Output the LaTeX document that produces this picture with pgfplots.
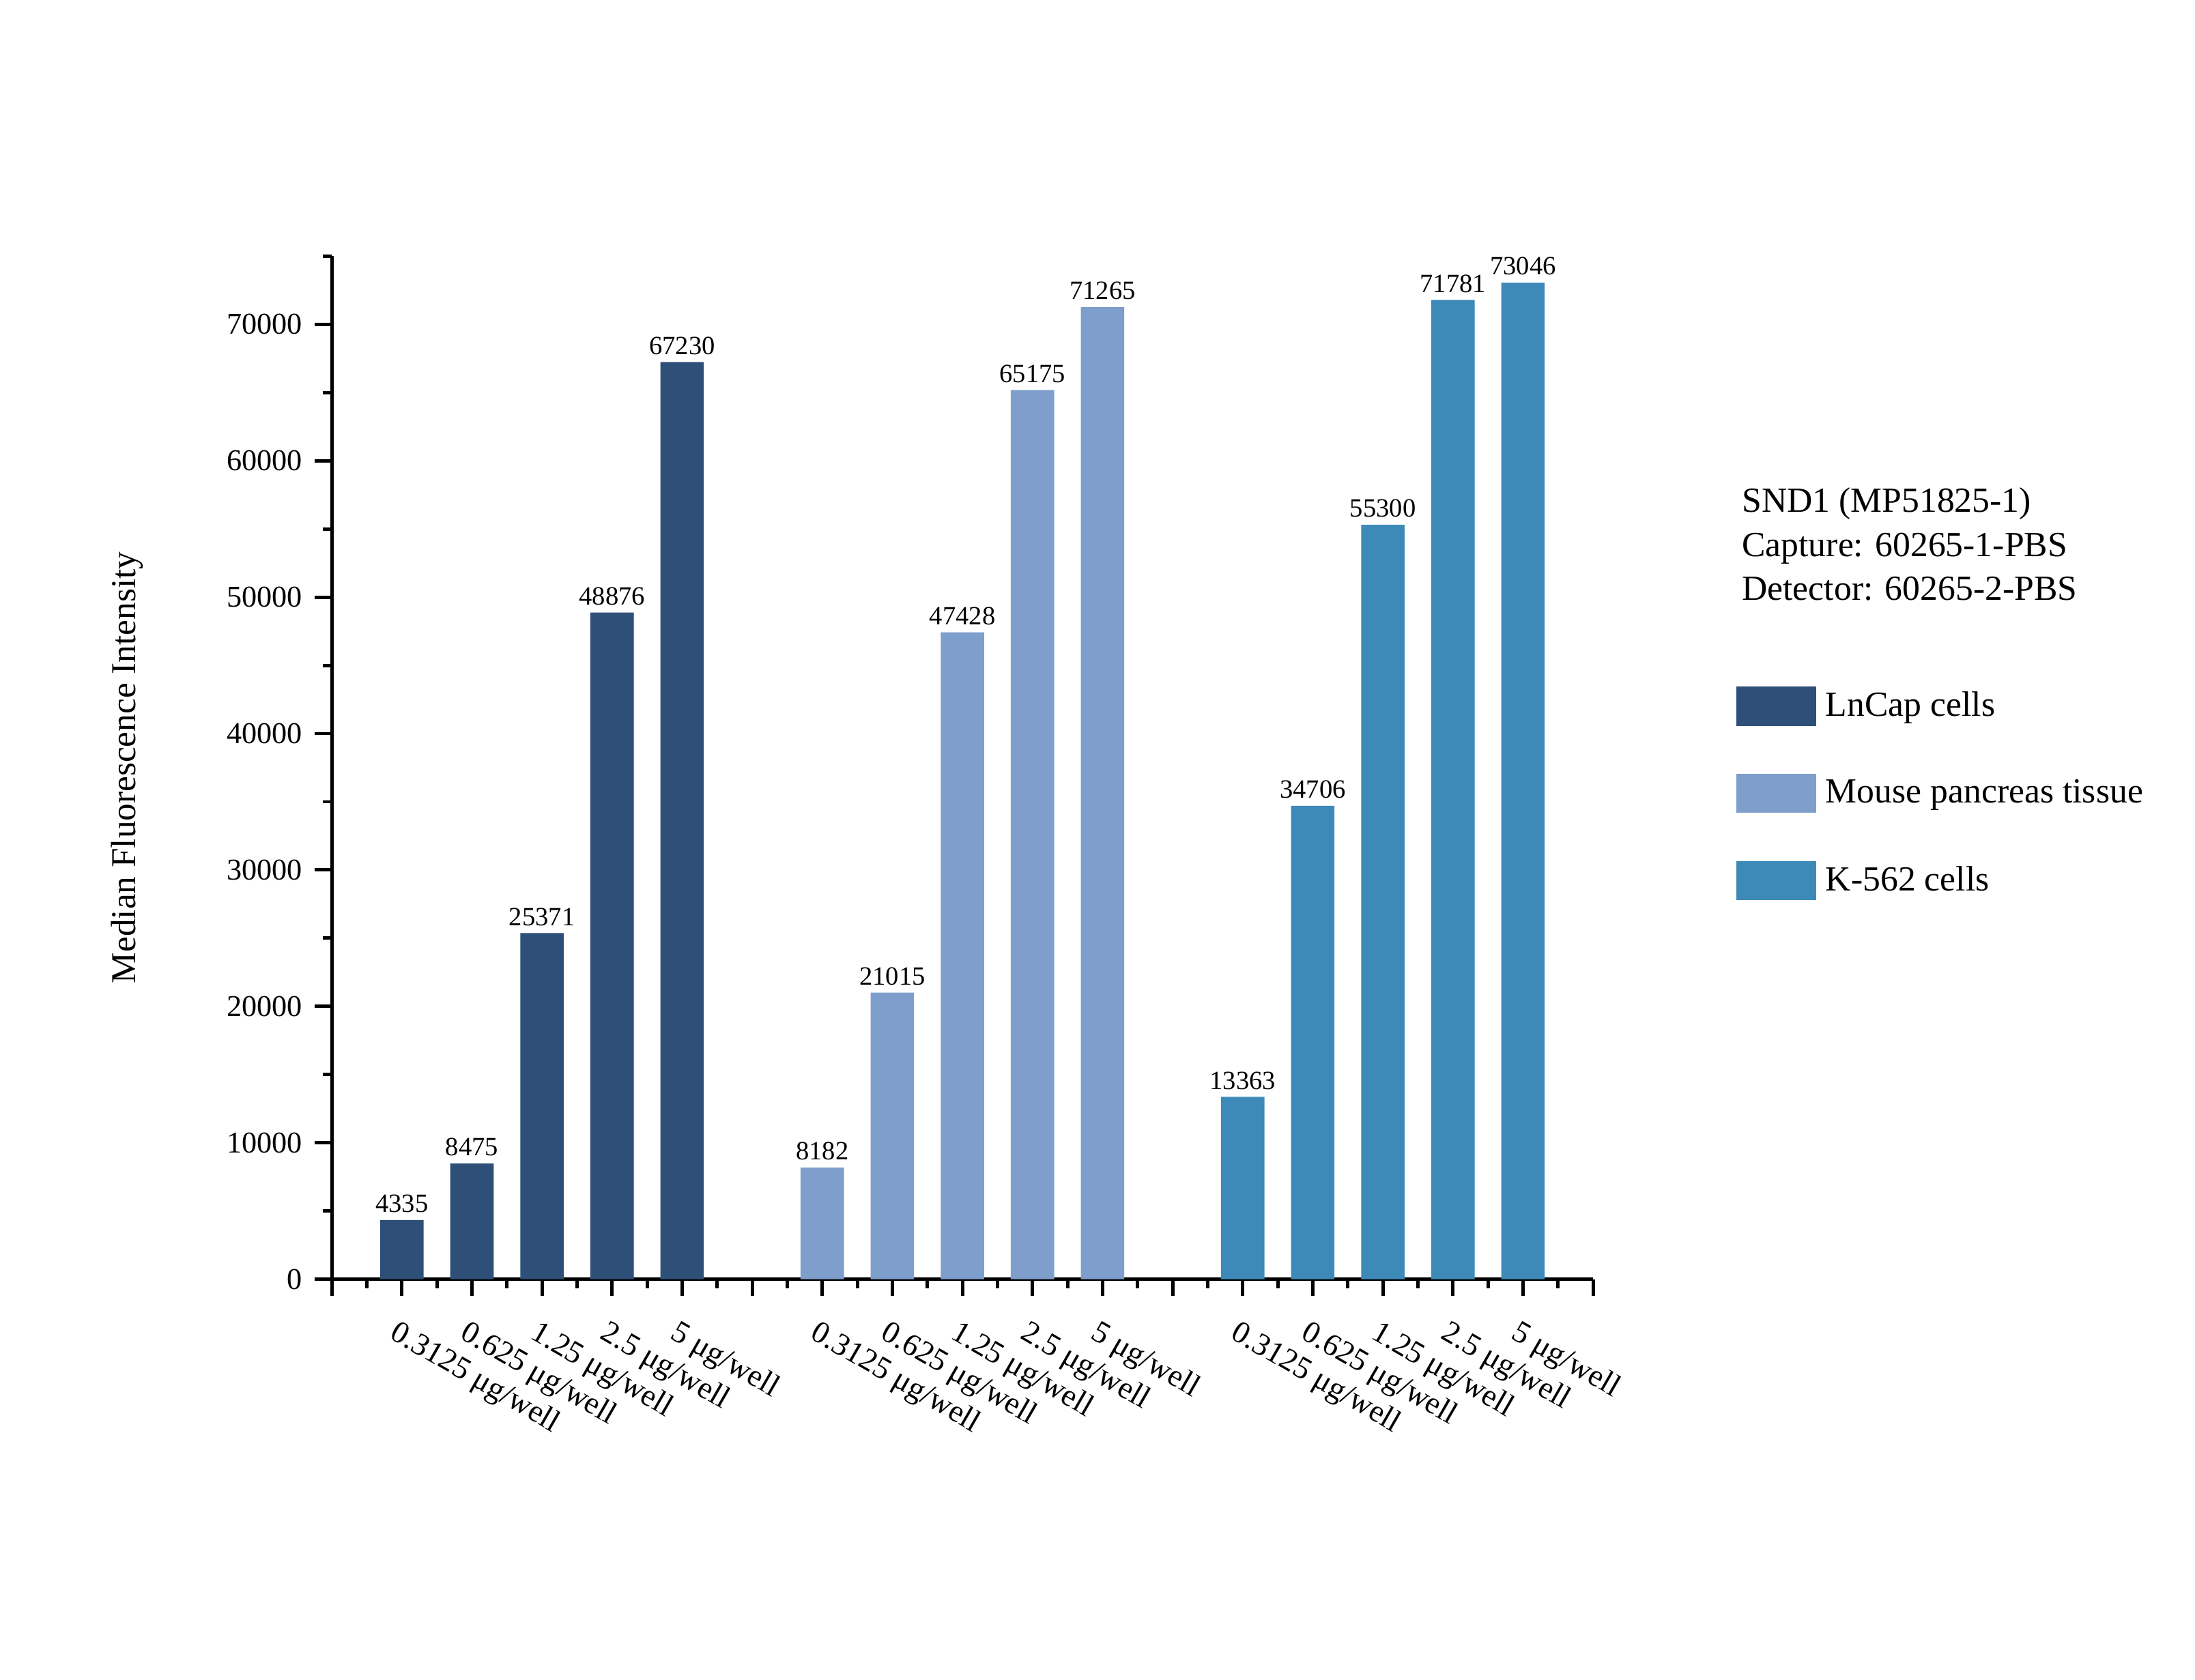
\documentclass[border=0pt]{standalone}
\usepackage{fontspec}
\setmainfont{Liberation Serif}
\usepackage{pgfplots}
\pgfplotsset{compat=1.18}
\definecolor{cA}{HTML}{2E4F78}
\definecolor{cB}{HTML}{7E9ECC}
\definecolor{cC}{HTML}{3D8AB9}
\begin{document}
\begin{tikzpicture}
\path[use as bounding box] (0,0) rectangle (784bp,600bp);
\begin{axis}[
  at={(118.5bp,143bp)}, anchor=south west,
  scale only axis, width=450.5bp, height=365.5bp,
  xmin=0, xmax=18, ymin=0, ymax=75000,
  axis lines*=left,
  axis line style={line width=1.2bp},
  every tick/.style={line width=1.2bp, black},
  tick align=outside,
  major tick length=6bp, minor tick length=3.2bp,
  ytick={0,10000,...,70000}, minor ytick={5000,15000,...,75000},
  xtick={0,...,18}, minor xtick={0.5,1.5,...,17.5},
  xticklabels={,0.3125 μg/well,0.625 μg/well,1.25 μg/well,2.5 μg/well,5 μg/well,,0.3125 μg/well,0.625 μg/well,1.25 μg/well,2.5 μg/well,5 μg/well,,0.3125 μg/well,0.625 μg/well,1.25 μg/well,2.5 μg/well,5 μg/well,},
  scaled y ticks=false,
  yticklabel style={/pgf/number format/1000 sep={}, /pgf/number format/assume math mode=true, font=\fontsize{10.8bp}{13bp}\selectfont, xshift=-1bp},
  xticklabel style={xshift=-0.8bp, yshift=-8bp, rotate=-30, anchor=north west, inner sep=0pt, font=\fontsize{11.2bp}{13bp}\selectfont},
  ylabel={Median Fluorescence Intensity},
  every axis y label/.style={at={(axis description cs:-0.162,0.5)}, rotate=90, anchor=center, font=\fontsize{12.5bp}{15bp}\selectfont},
  ybar, bar width=0.62,
  nodes near coords,
  nodes near coords style={font=\fontsize{9.4bp}{11bp}\selectfont, /pgf/number format/1000 sep={}, /pgf/number format/assume math mode=true, inner sep=1bp, yshift=1.5bp},
  legend style={draw=none, fill=none, at={(1.113,0.58)}, anchor=north west, font=\fontsize{12.6bp}{14bp}\selectfont, row sep=17bp, column sep=1.5bp, inner sep=0pt},
  legend cell align=left,
  legend image code/.code={\fill (0bp,-7bp) rectangle (28.5bp,7bp);},
]
\addplot[bar shift=0pt, fill=cA, draw=none] coordinates {(1,4335) (2,8475) (3,25371) (4,48876) (5,67230)};
\addlegendentry{LnCap cells}
\addplot[bar shift=0pt, fill=cB, draw=none] coordinates {(7,8182) (8,21015) (9,47428) (10,65175) (11,71265)};
\addlegendentry{Mouse pancreas tissue}
\addplot[bar shift=0pt, fill=cC, draw=none] coordinates {(13,13363) (14,34706) (15,55300) (16,71781) (17,73046)};
\addlegendentry{K-562 cells}
\end{axis}
\node[anchor=west, align=left, inner sep=0pt, font=\fontsize{12.6bp}{15.75bp}\selectfont] at (622bp,405.5bp) {SND1 (MP51825-1)\\Capture: 60265-1-PBS\\Detector: 60265-2-PBS};
\end{tikzpicture}
\end{document}
